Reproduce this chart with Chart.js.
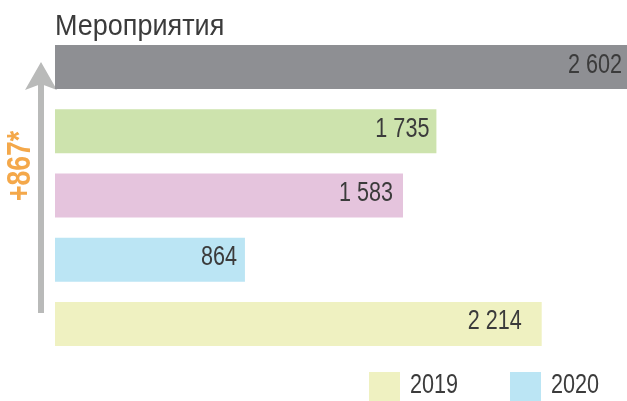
<!DOCTYPE html>
<html>
<head>
<meta charset="utf-8">
<script src="https://cdn.jsdelivr.net/npm/chart.js@4"></script>
<style>
  html, body { margin: 0; padding: 0; background: #fff; }
  #wrap { width: 627px; height: 401px; }
</style>
</head>
<body>
<div id="wrap"><canvas id="chart" width="627" height="401"></canvas></div>
<script>
const chartTitle = "Мероприятия";
const categories = ["Всего", "Категория 2", "Категория 3", "2020", "2019"];
const values = [2602, 1735, 1583, 864, 2214];
const barColors = ["#8e8f93", "#cde3ad", "#e5c4dd", "#bbe5f4", "#eff1c1"];
const legendLabels = ["2019", "2020"];
const legendColors = ["#eff1c1", "#bbe5f4"];
const growthLabel = "+867*";

// how far each value label sits inside its bar end (px)
const labelInsets = [5, 7, 10, 8, 20];

const FONT = "'Liberation Sans', Arial, sans-serif";
const TEXT_COLOR = "#3b3b3b";

function formatNum(v) {
    return String(v).replace(/\B(?=(\d{3})+(?!\d))/g, " ");
}

// condensed text: the narrow face is not installed, so squeeze horizontally
function narrowText(ctx, text, x, y, font, sx, align, color) {
    ctx.save();
    ctx.font = font;
    ctx.fillStyle = color;
    ctx.textAlign = align;
    ctx.scale(sx, 1);
    ctx.fillText(text, x / sx, y);
    ctx.restore();
}

const decorPlugin = {
    id: "decor",
    beforeDatasetsDraw(chart) {
        const ctx = chart.ctx;
        // growth arrow, bars overlap its head
        ctx.save();
        ctx.fillStyle = "#b9bab9";
        ctx.fillRect(38, 84, 6, 229);
        ctx.beginPath();
        ctx.moveTo(41, 62);
        ctx.lineTo(57, 90);
        ctx.lineTo(41, 84);
        ctx.lineTo(25, 90);
        ctx.closePath();
        ctx.fill();
        ctx.restore();
    },
    afterDatasetsDraw(chart) {
        const ctx = chart.ctx;
        const area = chart.chartArea;
        const meta = chart.getDatasetMeta(0);

        ctx.textBaseline = "middle";
        meta.data.forEach((bar, i) => {
            narrowText(ctx, formatNum(values[i]), bar.x - labelInsets[i], bar.y - 2,
                "27px " + FONT, 0.8, "right", TEXT_COLOR);
        });

        ctx.textBaseline = "alphabetic";
        narrowText(ctx, chartTitle, area.left, 35, "30px " + FONT, 0.9, "left", TEXT_COLOR);

        ctx.save();
        ctx.translate(20, 166);
        ctx.rotate(-Math.PI / 2);
        ctx.textBaseline = "middle";
        narrowText(ctx, growthLabel, 0, 1, "bold 34px " + FONT, 0.78, "center", "#f4a84a");
        ctx.restore();

        // legend
        const legendX = [369, 510];
        ctx.textBaseline = "middle";
        legendLabels.forEach((label, i) => {
            ctx.fillStyle = legendColors[i];
            ctx.fillRect(legendX[i], 372, 31, 29);
            narrowText(ctx, label, legendX[i] + 41, 386, "27px " + FONT, 0.8, "left", TEXT_COLOR);
        });
    }
};

const ctx = document.getElementById("chart").getContext("2d");
new Chart(ctx, {
    type: "bar",
    data: {
        labels: categories,
        datasets: [{
            data: values,
            backgroundColor: barColors,
            borderWidth: 0,
            categoryPercentage: 1,
            barPercentage: 0.685
        }]
    },
    options: {
        indexAxis: "y",
        responsive: false,
        animation: false,
        layout: { padding: { left: 55, top: 35, right: 0, bottom: 45 } },
        plugins: {
            legend: { display: false },
            title: { display: false },
            tooltip: { enabled: false }
        },
        scales: {
            x: { display: false, min: 0, max: 2602 },
            y: { display: false }
        }
    },
    plugins: [decorPlugin]
});
</script>
</body>
</html>
